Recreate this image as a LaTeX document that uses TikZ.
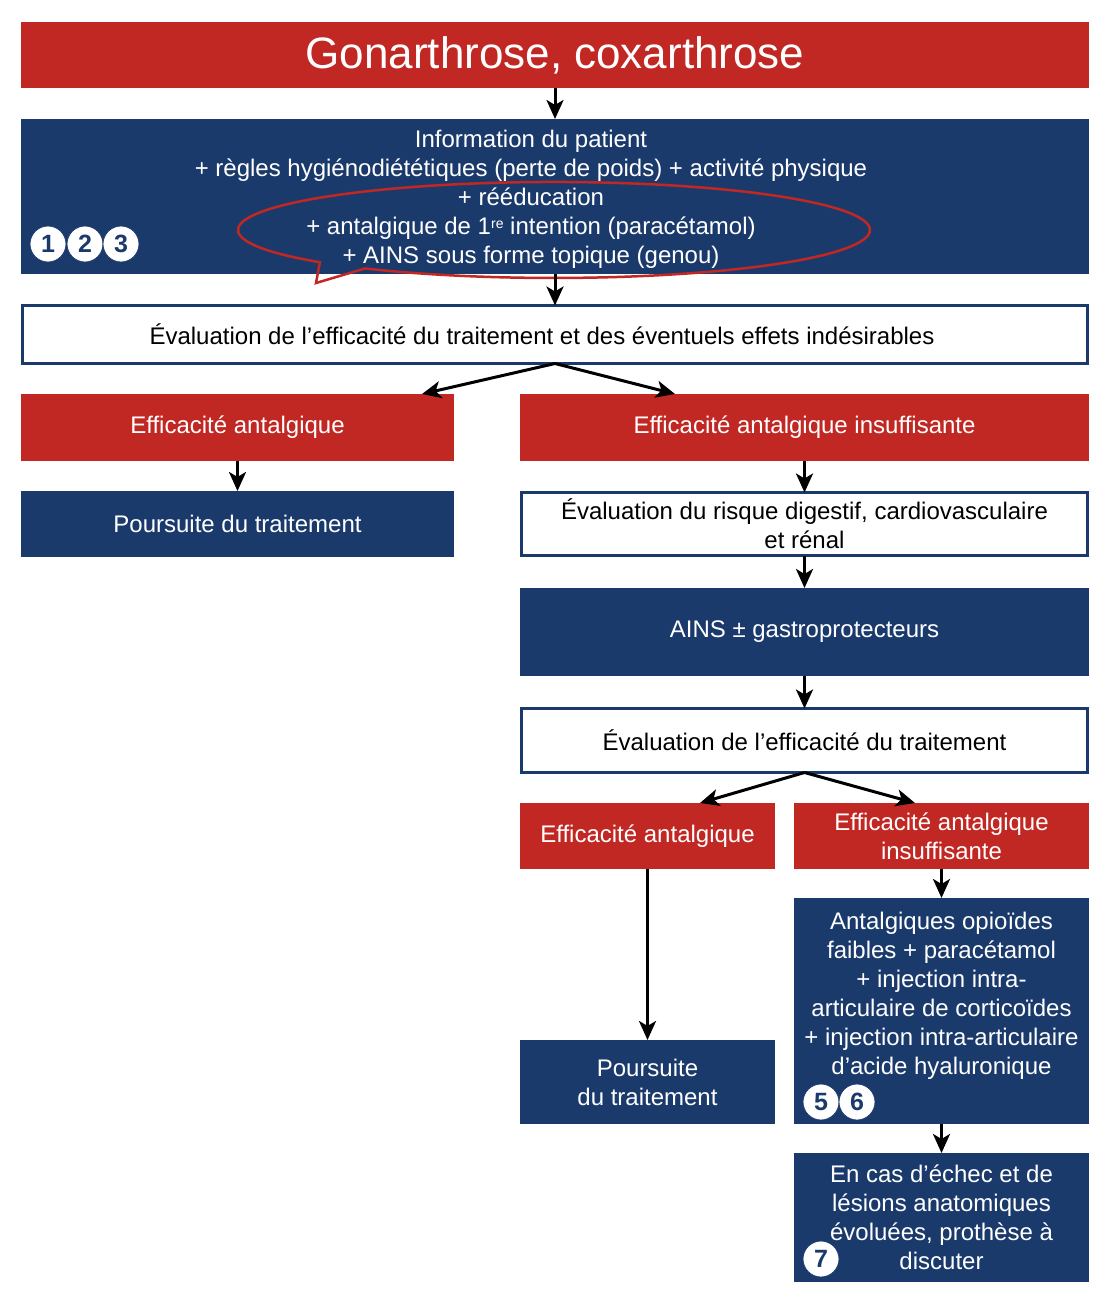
\documentclass[tikz,border=0pt]{standalone}
\usepackage{fontspec}
\setmainfont{Liberation Sans}
\usetikzlibrary{positioning,arrows.meta}

\definecolor{chured}{RGB}{193,39,35}
\definecolor{chublue}{RGB}{27,58,108}

\begin{document}
\begin{tikzpicture}[
    x=1pt, y=-1pt,
    every node/.style={inner sep=0pt, outer sep=0pt, align=center,
      font=\fontsize{24}{29}\selectfont},
    redbox/.style={fill=chured, text=white},
    bluebox/.style={fill=chublue, text=white},
    whitebox/.style={draw=chublue, line width=3pt, fill=white, text=black},
    numdot/.style={circle, fill=white, draw=chublue, line width=0.8pt,
      minimum size=36pt, text=chublue, font=\fontsize{25}{25}\selectfont\bfseries},
    flow/.style={-{Stealth[length=19pt, width=17pt, inset=5pt]}, line width=3pt},
  ]
  \useasboundingbox (0,0) rectangle (1116,1296);

  % title and first line treatment
  \node[redbox, minimum width=1068pt, minimum height=66pt,
    font=\fontsize{44}{50}\selectfont] (title) at (555,55) {Gonarthrose, coxarthrose};
  \node[bluebox, below=31pt of title, minimum width=1068pt, minimum height=155pt] (info) {};
  \node[text=white, xshift=-24pt, yshift=-2.5pt] (infotxt) at (info.center)
    {Information du patient\\
     + règles hygiénodiététiques (perte de poids) + activité physique\\
     + rééducation\\
     + antalgique de 1\raisebox{6pt}{\fontsize{14}{14}\selectfont re} intention (paracétamol)\\
     + AINS sous forme topique (genou)};
  \node[numdot] (n1) at ([shift={(27pt,30pt)}]info.south west) {1};
  \node[numdot, right=1pt of n1] (n2) {2};
  \node[numdot, right=0pt of n2] (n3) {3};

  % callout round the drugs
  \draw[chured, line width=2.5pt] (319.9,262.2)
    arc[start angle=137.8, end angle=486.7, x radius=316, y radius=48]
    -- (316,283) -- cycle;

  % first evaluation
  \node[whitebox, below=31.5pt of info, minimum width=1065pt, minimum height=58pt] (eval) {};
  \node[xshift=-13pt] (evaltxt) at (eval.center)
    {Évaluation de l’efficacité du traitement et des éventuels effets indésirables};

  % left branch
  \node[redbox, below=30.5pt of eval, xshift=-317.5pt, minimum width=433pt,
    minimum height=67pt] (okA) {Efficacité antalgique};
  \node[bluebox, below=30pt of okA, minimum width=433pt, minimum height=66pt] (goonA)
    {Poursuite du traitement};

  % right branch
  \node[redbox, right=66pt of okA, minimum width=569pt, minimum height=67pt] (lowA)
    {Efficacité antalgique insuffisante};
  \node[whitebox, below=31.5pt of lowA, minimum width=566pt, minimum height=63pt] (risk)
    {Évaluation du risque digestif, cardiovasculaire\\et rénal};
  \node[bluebox, below=32.5pt of risk, minimum width=569pt, minimum height=88pt] (ains)
    {AINS ± gastroprotecteurs};
  \node[whitebox, below=32.5pt of ains, minimum width=566pt, minimum height=64pt] (evalB)
    {Évaluation de l’efficacité du traitement};

  % second evaluation outcomes
  \node[redbox, below=30.5pt of evalB, xshift=-157pt, minimum width=255pt,
    minimum height=66pt] (okB) {Efficacité antalgique};
  \node[redbox, right=19pt of okB, minimum width=295pt, minimum height=66pt] (lowB)
    {Efficacité antalgique\\insuffisante};
  \node[bluebox, below=171pt of okB, minimum width=255pt, minimum height=84pt] (goonB)
    {Poursuite\\du traitement};
  \node[bluebox, below=29pt of lowB, minimum width=295pt, minimum height=226pt] (opio) {};
  \node[text=white, anchor=north] (opiotxt) at ([yshift=-14.5pt]opio.north)
    {Antalgiques opioïdes\\
     faibles + paracétamol\\
     + injection intra-\\
     articulaire de corticoïdes\\
     + injection intra-articulaire\\
     d’acide hyaluronique};
  \node[numdot] (n5) at ([shift={(27pt,22pt)}]opio.south west) {5};
  \node[numdot, right=0pt of n5] (n6) {6};
  \node[bluebox, below=29pt of opio, minimum width=295pt, minimum height=129pt] (surg)
    {En cas d’échec et de\\lésions anatomiques\\évoluées, prothèse à\\discuter};
  \node[numdot] (n7) at ([shift={(27pt,23pt)}]surg.south west) {7};

  % arrows
  \draw[flow] (title) -- (info);
  \draw[flow] (info) -- (eval);
  \draw[flow] (eval.south) -- ([xshift=-32pt]okA.north east);
  \draw[flow] (eval.south) -- ([xshift=155pt]lowA.north west);
  \draw[flow] (okA) -- (goonA);
  \draw[flow] (lowA) -- (risk);
  \draw[flow] (risk) -- (ains);
  \draw[flow] (ains) -- (evalB);
  \draw[flow] (evalB.south) -- ([xshift=-75pt]okB.north east);
  \draw[flow] (evalB.south) -- ([xshift=121pt]lowB.north west);
  \draw[flow] (okB) -- (goonB);
  \draw[flow] (lowB) -- (opio);
  \draw[flow] (opio) -- (surg);
\end{tikzpicture}
\end{document}
